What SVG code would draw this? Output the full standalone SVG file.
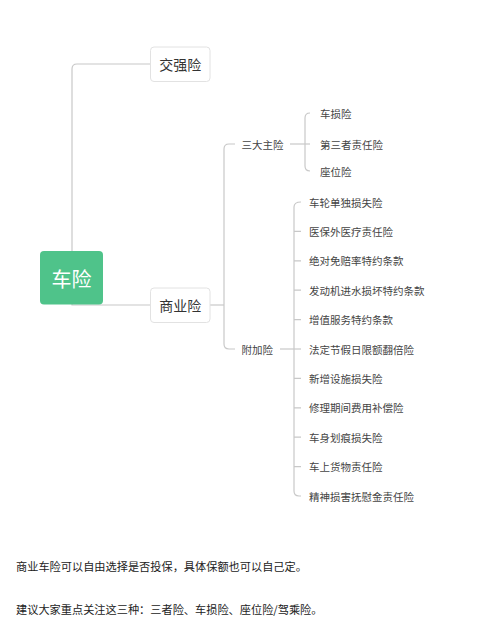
<svg xmlns="http://www.w3.org/2000/svg" width="484" height="638" viewBox="0 0 484 638">
<style>
text{font-family:"Noto Sans CJK SC","Noto Sans",sans-serif;dominant-baseline:central}
.c{fill:none;stroke:#c8c8c8;stroke-width:1.2}
.box{fill:#fff;stroke:#e2e2e2;stroke-width:1}
.lb{font-size:14px;fill:#333;text-anchor:middle}
.t{font-size:10.5px;fill:#444}
.note{font-size:11.2px;fill:#222}
</style>
<rect width="484" height="638" fill="#fff"/>
<g id="connectors">
<path class="c" d="M72,251 V69 Q72,64 77,64 H151"/>
<path class="c" d="M72,280 V305 H151"/>
<path class="c" d="M210,305 H224"/>
<path class="c" d="M235,144 H229 Q224,144 224,149 V344 Q224,349 229,349 H235"/>
<path class="c" d="M290,144 H310"/>
<path class="c" d="M310,113 Q305,113 305,118 V166 Q305,171 310,171"/>
<path class="c" d="M280,349 H301"/>
<path class="c" d="M301,202 Q294,202 294,207 V491 Q294,496 299,496 H301"/>
<path class="c" d="M294,231.4 H301 M294,260.8 H301 M294,290.2 H301 M294,319.6 H301 M294,378.4 H301 M294,407.8 H301 M294,437.2 H301 M294,466.6 H301"/>
</g>
<g id="root">
<rect x="40" y="251" width="63" height="53.5" rx="4" fill="#4fc38a"/>
<text x="71.5" y="278" font-size="20" fill="#fff" text-anchor="middle">车险</text>
</g>
<g id="jqx">
<rect class="box" x="150.5" y="47" width="59.5" height="34.5" rx="3.5"/>
<text class="lb" x="180.2" y="64.3">交强险</text>
</g>
<g id="syx">
<rect class="box" x="150.5" y="288" width="59.5" height="34.5" rx="3.5"/>
<text class="lb" x="180.2" y="305.3">商业险</text>
</g>
<g id="sdzx"><text class="t" x="241.5" y="144">三大主险</text></g>
<g id="csx"><text class="t" x="320" y="113.5">车损险</text></g>
<g id="dszzrx"><text class="t" x="320" y="144">第三者责任险</text></g>
<g id="zwx"><text class="t" x="320" y="171.5">座位险</text></g>
<g id="fjx"><text class="t" x="241.5" y="349">附加险</text></g>
<g id="a1"><text class="t" x="309" y="202">车轮单独损失险</text></g>
<g id="a2"><text class="t" x="309" y="231.4">医保外医疗责任险</text></g>
<g id="a3"><text class="t" x="309" y="260.8">绝对免赔率特约条款</text></g>
<g id="a4"><text class="t" x="309" y="290.2">发动机进水损坏特约条款</text></g>
<g id="a5"><text class="t" x="309" y="319.6">增值服务特约条款</text></g>
<g id="a6"><text class="t" x="309" y="349">法定节假日限额翻倍险</text></g>
<g id="a7"><text class="t" x="309" y="378.4">新增设施损失险</text></g>
<g id="a8"><text class="t" x="309" y="407.8">修理期间费用补偿险</text></g>
<g id="a9"><text class="t" x="309" y="437.2">车身划痕损失险</text></g>
<g id="a10"><text class="t" x="309" y="466.6">车上货物责任险</text></g>
<g id="a11"><text class="t" x="309" y="496">精神损害抚慰金责任险</text></g>
<text class="note" x="16" y="566">商业车险可以自由选择是否投保，具体保额也可以自己定。</text>
<text class="note" x="16" y="609">建议大家重点关注这三种：三者险、车损险、座位险/驾乘险。</text>
</svg>
